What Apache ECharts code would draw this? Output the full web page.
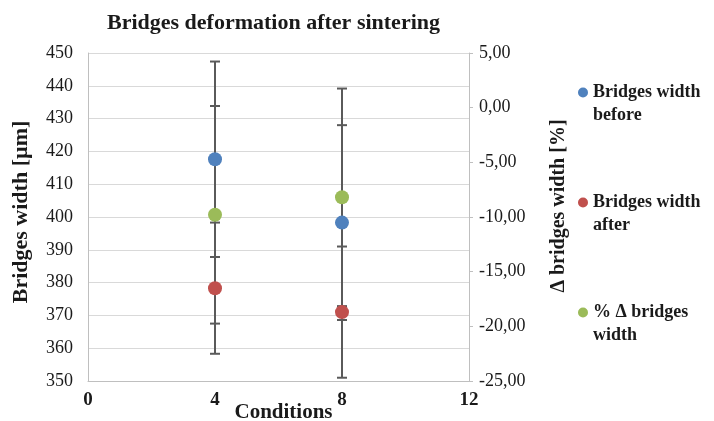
<!DOCTYPE html>
<html>
<head>
<meta charset="utf-8">
<script src="https://cdn.jsdelivr.net/npm/echarts@6/dist/echarts.min.js"></script>
<style>
  html, body { margin: 0; padding: 0; background: #fff; }
  #chart { width: 714px; height: 421px; }
</style>
</head>
<body>
<div id="chart"></div>
<script>
// values
const conditions = [4, 8]
const widthBefore = [417.6, 398.3]
const widthBeforeErr = [29.8, 29.7]
const widthAfter = [378.3, 371.0]
const widthAfterErr = [20.0, 20.0]
const deltaWidth = [-9.8, -8.2]
const deltaWidthErr = [9.95, 9.95]
const leftTicks = { min: 350, max: 450, interval: 10 }
const rightTicks = { min: -25, max: 5, interval: 5 }
const xTicks = { min: 0, max: 12, interval: 4 }

const FONT = '"Liberation Serif", "DejaVu Serif", serif'
const TEXT = '#1a1a1a'
const BAR = '#5a5a5a'

const points = (vals) => conditions.map((c, i) => [c, vals[i]])
const bars = (vals, errs) => conditions.map((c, i) => [c, vals[i] - errs[i], vals[i] + errs[i]])

// error bar with caps
const renderErrorBar = (params, api) => {
  const x = api.value(0)
  const lo = api.coord([x, api.value(1)])
  const hi = api.coord([x, api.value(2)])
  const cap = 5
  const style = { stroke: BAR, lineWidth: 2 }
  return {
    type: 'group',
    children: [
      { type: 'line', shape: { x1: hi[0], y1: hi[1], x2: lo[0], y2: lo[1] }, style },
      { type: 'line', shape: { x1: hi[0] - cap, y1: hi[1], x2: hi[0] + cap, y2: hi[1] }, style },
      { type: 'line', shape: { x1: lo[0] - cap, y1: lo[1], x2: lo[0] + cap, y2: lo[1] }, style }
    ]
  }
}

const chart = echarts.init(document.getElementById('chart'))

const option = {
  animation: false,
  textStyle: { fontFamily: FONT },
  title: {
    text: 'Bridges deformation after sintering',
    left: 102,
    top: 7,
    textStyle: { fontFamily: FONT, fontSize: 22, fontWeight: 'bold', color: TEXT }
  },
  legend: {
    orient: 'vertical',
    left: 573,
    top: 53,
    itemGap: 41,
    icon: 'circle',
    itemWidth: 10,
    itemHeight: 10,
    // blank first line keeps the dot level with the first text line
    formatter: (name) => '\u00a0\n' + name,
    textStyle: { fontFamily: FONT, fontSize: 18, fontWeight: 'bold', color: TEXT, lineHeight: 23 },
    data: ['Bridges width\nbefore', 'Bridges width\nafter', '% Δ bridges\nwidth']
  },
  grid: { left: 88, right: 245, top: 53, bottom: 40, outerBoundsMode: 'none', containLabel: false },
  xAxis: {
    type: 'value',
    min: xTicks.min,
    max: xTicks.max,
    interval: xTicks.interval,
    name: 'Conditions',
    nameLocation: 'middle',
    nameGap: 21,
    nameMoveOverlap: false,
    nameTextStyle: { fontFamily: FONT, fontSize: 21, fontWeight: 'bold', color: TEXT, padding: [0, 0, 0, 10] },
    axisLine: { onZero: false, lineStyle: { color: '#bfbfbf' } },
    axisTick: { show: false },
    splitLine: { show: false },
    axisLabel: { fontFamily: FONT, fontSize: 19, fontWeight: 'bold', color: TEXT, margin: 10 }
  },
  yAxis: [
    {
      type: 'value',
      min: leftTicks.min,
      max: leftTicks.max,
      interval: leftTicks.interval,
      name: 'Bridges width [µm]',
      nameLocation: 'middle',
      nameGap: 56,
      nameMoveOverlap: false,
      nameTextStyle: { fontFamily: FONT, fontSize: 22, fontWeight: 'bold', color: TEXT, padding: [0, 0, 0, 10] },
      axisLine: { show: true, lineStyle: { color: '#bfbfbf' } },
      axisTick: { show: false },
      splitLine: { lineStyle: { color: '#d9d9d9' } },
      axisLabel: { fontFamily: FONT, fontSize: 18, color: TEXT, margin: 15 }
    },
    {
      type: 'value',
      position: 'right',
      min: rightTicks.min,
      max: rightTicks.max,
      interval: rightTicks.interval,
      name: 'Δ bridges width [%]',
      nameLocation: 'middle',
      nameGap: 80,
      nameRotate: 90,
      nameMoveOverlap: false,
      nameTextStyle: { fontFamily: FONT, fontSize: 20, fontWeight: 'bold', color: TEXT, padding: [0, 0, 0, 22] },
      axisLine: { show: true, lineStyle: { color: '#bfbfbf' } },
      axisTick: { show: true, length: 4, lineStyle: { color: '#bfbfbf' } },
      splitLine: { show: false },
      axisLabel: {
        fontFamily: FONT, fontSize: 18, color: TEXT, margin: 10,
        formatter: (v) => v.toFixed(2).replace('.', ',')
      }
    }
  ],
  series: [
    { type: 'custom', renderItem: renderErrorBar, data: bars(widthBefore, widthBeforeErr), yAxisIndex: 0, z: 1, silent: true },
    { type: 'custom', renderItem: renderErrorBar, data: bars(widthAfter, widthAfterErr), yAxisIndex: 0, z: 1, silent: true },
    { type: 'custom', renderItem: renderErrorBar, data: bars(deltaWidth, deltaWidthErr), yAxisIndex: 1, z: 1, silent: true },
    { name: 'Bridges width\nbefore', type: 'scatter', symbolSize: 14, yAxisIndex: 0, z: 3, itemStyle: { color: '#4f81bd', opacity: 1 }, data: points(widthBefore) },
    { name: 'Bridges width\nafter', type: 'scatter', symbolSize: 14, yAxisIndex: 0, z: 3, itemStyle: { color: '#c0504d', opacity: 1 }, data: points(widthAfter) },
    { name: '% Δ bridges\nwidth', type: 'scatter', symbolSize: 14, yAxisIndex: 1, z: 3, itemStyle: { color: '#9bbb59', opacity: 1 }, data: points(deltaWidth) }
  ]
}

chart.setOption(option)
window.addEventListener('resize', () => chart.resize())
</script>
</body>
</html>
